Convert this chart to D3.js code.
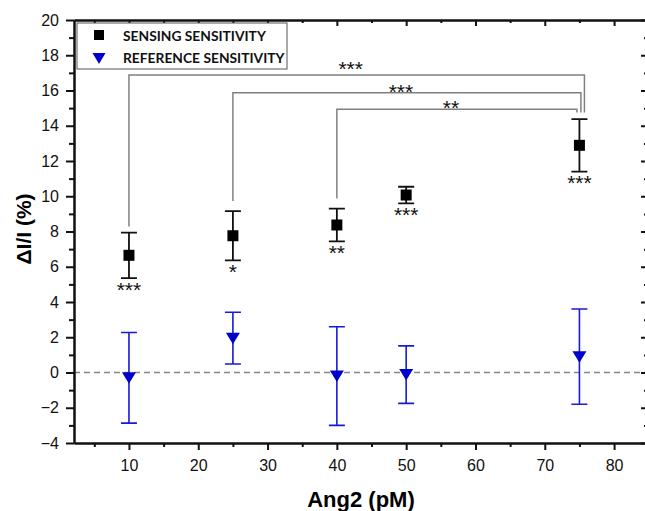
<!doctype html>
<html>
<head>
<meta charset="utf-8">
<style>
body { margin: 0; background: white; overflow: hidden; }
svg { display: block; }
.tick text { font-family: "Liberation Sans", Arial, sans-serif; font-size: 16px; fill: #111; }
.axis path, .axis line { stroke: #111; }
</style>
<script src="https://cdnjs.cloudflare.com/ajax/libs/d3/7.8.5/d3.min.js"></script>
</head>
<body>
<div id="chart"></div>
<script>
// values
var categories = [10, 25, 40, 50, 75];
var sensing = [6.65, 7.76, 8.37, 10.07, 12.89];
var sensingErr = [1.29, 1.40, 0.93, 0.47, 1.49];
var sensingStars = ["***", "*", "**", "***", "***"];
var reference = [-0.3, 1.95, -0.2, -0.12, 0.9];
var referenceErr = [2.57, 1.47, 2.8, 1.63, 2.7];

var xTicks = [10, 20, 30, 40, 50, 60, 70, 80];
var xMinor = [5, 15, 25, 35, 45, 55, 65, 75];
var yTicks = [-4, -2, 0, 2, 4, 6, 8, 10, 12, 14, 16, 18, 20];
var yMinor = [-3, -1, 1, 3, 5, 7, 9, 11, 13, 15, 17, 19];

// significance brackets
var bracketFrom = [10, 25, 40];
var bracketTo = [75, 75, 75];
var bracketLevel = [16.88, 15.87, 14.93];
var bracketStars = ["***", "***", "**"];

var width = 645, height = 511;
var mLeft = 74, mTop = 20, mRight = 647, mBottom = 443;

var svg = d3.select("#chart").append("svg")
	.attr("width", width).attr("height", height);

var x = d3.scaleLinear().domain([2.07, 84.75]).range([mLeft, mRight]);
var y = d3.scaleLinear().domain([-4, 20]).range([mBottom, mTop]);

// dashed zero line
svg.append("line")
	.attr("x1", mLeft).attr("x2", mRight)
	.attr("y1", y(0)).attr("y2", y(0))
	.attr("stroke", "#888").attr("stroke-width", 1.3)
	.attr("stroke-dasharray", "6,4");

// axes
function styleAxis(g) {
	g.attr("class", "axis");
	g.select(".domain").attr("stroke-width", 2);
	g.selectAll(".tick line").attr("stroke-width", 2);
}
svg.append("g").attr("transform", "translate(" + mLeft + ",0)")
	.call(d3.axisLeft(y).tickValues(yTicks).tickSize(8).tickSizeOuter(0).tickPadding(7).tickFormat(d3.format("d")))
	.call(styleAxis);
svg.append("g").attr("transform", "translate(" + mLeft + ",0)")
	.call(d3.axisLeft(y).tickValues(yMinor).tickSize(5).tickSizeOuter(0).tickFormat(""))
	.call(styleAxis);
svg.append("g").attr("transform", "translate(0," + mBottom + ")")
	.call(d3.axisBottom(x).tickValues(xTicks).tickSize(7).tickSizeOuter(0).tickPadding(10))
	.call(styleAxis);
svg.append("g").attr("transform", "translate(0," + mBottom + ")")
	.call(d3.axisBottom(x).tickValues(xMinor).tickSize(4).tickSizeOuter(0).tickFormat(""))
	.call(styleAxis);
// top and right: ticks pointing inwards, no labels
svg.append("g").attr("transform", "translate(0," + mTop + ")")
	.call(d3.axisBottom(x).tickValues(xTicks).tickSize(6).tickSizeOuter(0).tickFormat(""))
	.call(styleAxis);
svg.append("g").attr("transform", "translate(0," + mTop + ")")
	.call(d3.axisBottom(x).tickValues(xMinor).tickSize(3).tickSizeOuter(0).tickFormat(""))
	.call(styleAxis);
// right axis line lies just past the picture edge, only its ticks show
svg.append("g").attr("transform", "translate(" + mRight + ",0)")
	.call(d3.axisLeft(y).tickValues(yTicks).tickSize(6).tickSizeOuter(0).tickFormat(""))
	.call(styleAxis)
	.call(function (g) { g.select(".domain").remove(); });
svg.append("g").attr("transform", "translate(" + mRight + ",0)")
	.call(d3.axisLeft(y).tickValues(yMinor).tickSize(3).tickSizeOuter(0).tickFormat(""))
	.call(styleAxis)
	.call(function (g) { g.select(".domain").remove(); });

// axis titles
svg.append("text")
	.attr("x", 361).attr("y", 507)
	.attr("text-anchor", "middle")
	.attr("font-family", "Liberation Sans, Arial, sans-serif")
	.attr("font-weight", "bold").attr("font-size", 22)
	.text("Ang2 (pM)");
svg.append("text")
	.attr("transform", "translate(31,229) rotate(-90)")
	.attr("text-anchor", "middle")
	.attr("font-family", "Liberation Sans, Arial, sans-serif")
	.attr("font-weight", "bold").attr("font-size", 21)
	.text("\u0394I/I (%)");

var rows = categories.map(function (c, i) {
	return { x: c, s: sensing[i], se: sensingErr[i], star: sensingStars[i], r: reference[i], re: referenceErr[i] };
});

// brackets
var bracketDx = [5, 1.5, -2.5];
var bracketGap = [6, 10, 10];
var starDy = [-9, -4.5, -4.5];
bracketFrom.forEach(function (from, i) {
	var fi = categories.indexOf(from), ti = categories.indexOf(bracketTo[i]);
	var x1 = x(from), x2 = x(bracketTo[i]) + bracketDx[i], yl = y(bracketLevel[i]);
	var yLeft = y(sensing[fi] + sensingErr[fi]) - bracketGap[i];
	var yRight = y(sensing[ti] + sensingErr[ti]) - 6.5;
	svg.append("path")
		.attr("d", "M" + x1 + "," + yLeft + "V" + yl + "H" + x2 + "V" + yRight)
		.attr("fill", "none").attr("stroke", "#808080").attr("stroke-width", 1.5);
	svg.append("text")
		.attr("x", (x1 + x2) / 2 - 6).attr("y", yl + starDy[i] + 10.5)
		.attr("text-anchor", "middle")
		.attr("font-family", "Liberation Sans, Arial, sans-serif")
		.attr("font-size", 21).attr("fill", "#111")
		.text(bracketStars[i]);
});

// reference series error bars and triangles
var blue = "#0000cc";
var refG = svg.append("g");
refG.selectAll(".rbar").data(rows).enter().append("path")
	.attr("d", function (d) {
		var cx = x(d.x), t = y(d.r + d.re), b = y(d.r - d.re);
		return "M" + (cx - 8) + "," + t + "H" + (cx + 8) + "M" + cx + "," + t + "V" + b + "M" + (cx - 8) + "," + b + "H" + (cx + 8);
	})
	.attr("fill", "none").attr("stroke", "#1a1ad6").attr("stroke-width", 1.6);
refG.selectAll(".tri").data(rows).enter().append("path")
	.attr("d", "M-7,-5.5L7,-5.5L0,6Z")
	.attr("transform", function (d) { return "translate(" + x(d.x) + "," + y(d.r) + ")"; })
	.attr("fill", blue);

// sensing series
var sG = svg.append("g");
sG.selectAll(".sbar").data(rows).enter().append("path")
	.attr("d", function (d) {
		var cx = x(d.x), t = y(d.s + d.se), b = y(d.s - d.se);
		return "M" + (cx - 8) + "," + t + "H" + (cx + 8) + "M" + cx + "," + t + "V" + b + "M" + (cx - 8) + "," + b + "H" + (cx + 8);
	})
	.attr("fill", "none").attr("stroke", "#111").attr("stroke-width", 1.8);
sG.selectAll(".sq").data(rows).enter().append("rect")
	.attr("x", function (d) { return x(d.x) - 5.5; })
	.attr("y", function (d) { return y(d.s) - 5.5; })
	.attr("width", 11).attr("height", 11)
	.attr("fill", "#000");
sG.selectAll(".star").data(rows).enter().append("text")
	.attr("x", function (d) { return x(d.x); })
	.attr("y", function (d) { return y(d.s - d.se) + 18.5; })
	.attr("text-anchor", "middle")
	.attr("font-family", "Liberation Sans, Arial, sans-serif")
	.attr("font-size", 21).attr("fill", "#111")
	.text(function (d) { return d.star; });

// legend
var lg = svg.append("g");
lg.append("rect")
	.attr("x", 77).attr("y", 23).attr("width", 210).attr("height", 46)
	.attr("fill", "white").attr("stroke", "#555").attr("stroke-width", 1);
lg.append("rect").attr("x", 94).attr("y", 30).attr("width", 10).attr("height", 10).attr("fill", "#000");
lg.append("path").attr("d", "M-6.5,-5.5L6.5,-5.5L0,5.5Z")
	.attr("transform", "translate(99,58.5)").attr("fill", blue);
lg.selectAll(".lt").data(["SENSING SENSITIVITY", "REFERENCE SENSITIVITY"]).enter().append("text")
	.attr("x", 123)
	.attr("y", function (d, i) { return 40.5 + i * 22.2; })
	.attr("font-family", "Lato, 'Open Sans', sans-serif")
	.attr("font-weight", "bold").attr("font-size", 13.8)
	.attr("fill", "#111")
	.text(function (d) { return d; });
</script>
</body>
</html>
